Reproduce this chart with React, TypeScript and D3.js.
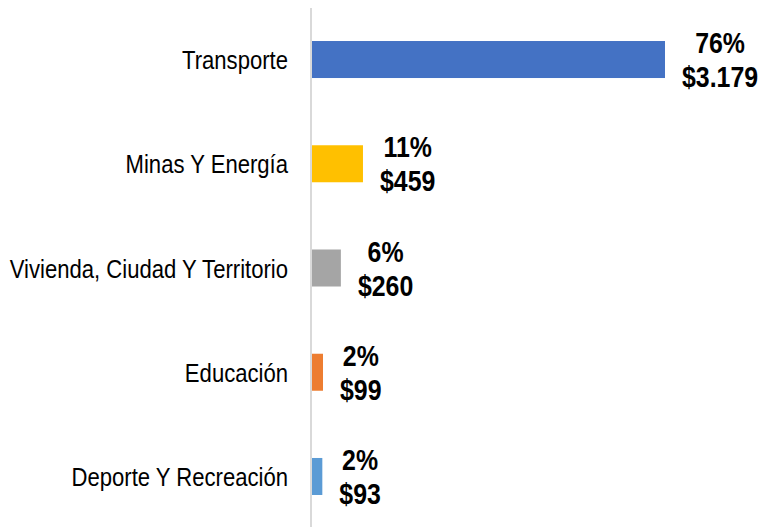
import React, { useEffect, useRef } from 'react';
import * as d3 from 'd3';

const categories = [
  'Transporte',
  'Minas Y Energía',
  'Vivienda, Ciudad Y Territorio',
  'Educación',
  'Deporte Y Recreación',
];
const values = [3179, 459, 260, 99, 93];
const percentLabels = ['76%', '11%', '6%', '2%', '2%'];
const valueLabels = ['$3.179', '$459', '$260', '$99', '$93'];
const colors = ['#4472C4', '#FFC000', '#A5A5A5', '#ED7D31', '#5B9BD5'];

// no narrow font installed, so squeeze Liberation Sans horizontally
const FONT = '"Liberation Sans", Arial, sans-serif';
const CAT_SQUEEZE = 0.85;
const VAL_SQUEEZE = 0.83;

const App = () => {
  const chartRef = useRef<SVGSVGElement | null>(null);

  useEffect(() => {
    const svgWidth = 761;
    const svgHeight = 527;
    const axisX = 312;

    const svg = d3.select(chartRef.current);
    svg.selectAll('*').remove();

    const x = d3.scaleLinear().domain([0, 3179]).range([axisX, 665]);

    const y = d3
      .scaleBand<string>()
      .domain(categories)
      .range([7.4, 528.6])
      .paddingInner(0.645)
      .paddingOuter(0.3225);

    // vertical axis line
    svg
      .append('line')
      .attr('x1', axisX - 1)
      .attr('x2', axisX - 1)
      .attr('y1', 8)
      .attr('y2', svgHeight)
      .attr('stroke', '#d9d9d9')
      .attr('stroke-width', 2);

    // bars
    svg
      .selectAll('.bar')
      .data(values)
      .enter()
      .append('rect')
      .attr('class', 'bar')
      .attr('x', axisX)
      .attr('y', (d, i) => y(categories[i]) as number)
      .attr('width', (d) => x(d) - axisX)
      .attr('height', y.bandwidth())
      .attr('fill', (d, i) => colors[i]);

    // category labels
    svg
      .selectAll('.cat')
      .data(categories)
      .enter()
      .append('text')
      .attr('class', 'cat')
      .attr(
        'transform',
        (d) => `translate(288,${(y(d) as number) + y.bandwidth() / 2 + 9.5}) scale(${CAT_SQUEEZE},1)`
      )
      .attr('text-anchor', 'end')
      .style('font-family', FONT)
      .style('font-size', '26px')
      .style('fill', '#000')
      .text((d) => d);

    // value labels (two lines, centered block)
    values.forEach((v, i) => {
      const cy = (y(categories[i]) as number) + y.bandwidth() / 2;
      const g = svg.append('g');
      const addLine = (txt: string) =>
        g
          .append('text')
          .attr('text-anchor', 'middle')
          .style('font-family', FONT)
          .style('font-size', '30px')
          .style('font-weight', 'bold')
          .text(txt);
      const t1 = addLine(percentLabels[i]);
      const t2 = addLine(valueLabels[i]);
      const w =
        Math.max(
          (t1.node() as SVGTextElement).getComputedTextLength(),
          (t2.node() as SVGTextElement).getComputedTextLength()
        ) * VAL_SQUEEZE;
      const cx = x(v) + 17 + w / 2;
      t1.attr('transform', `translate(${cx},${cy - 6.5}) scale(${VAL_SQUEEZE},1)`);
      t2.attr('transform', `translate(${cx},${cy + 27.5}) scale(${VAL_SQUEEZE},1)`);
    });

    svg.attr('width', svgWidth).attr('height', svgHeight);
  }, []);

  return (
    <svg
      ref={chartRef}
      width={761}
      height={527}
      style={{ position: 'absolute', left: 0, top: 0, background: '#fff' }}
    />
  );
};

export default App;
